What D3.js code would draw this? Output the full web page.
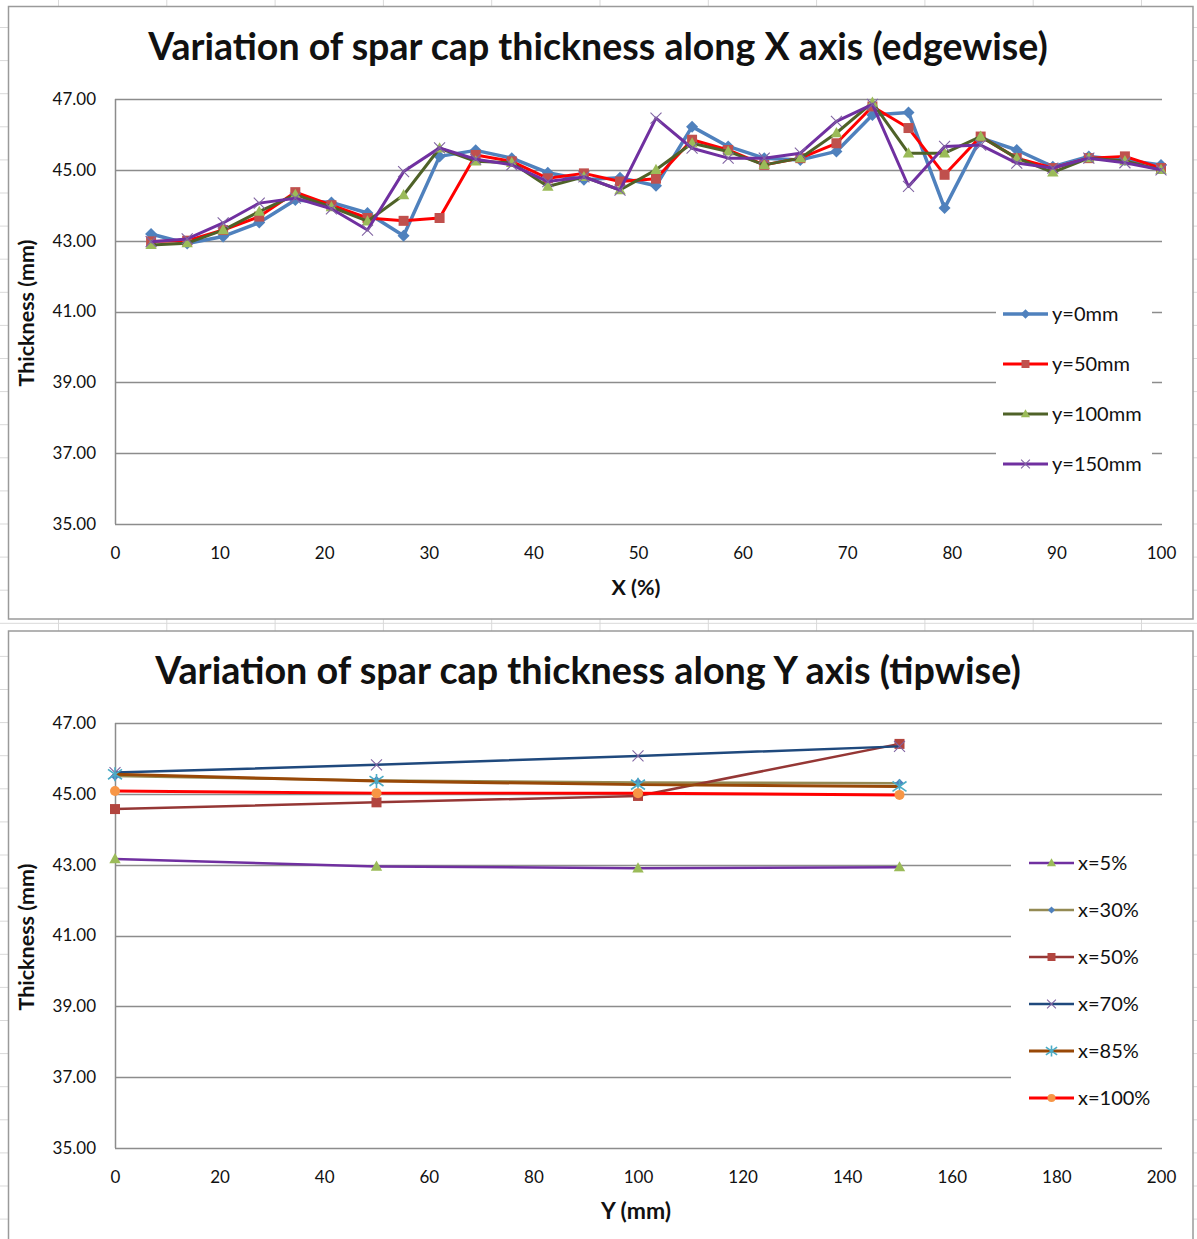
<!DOCTYPE html>
<html>
<head>
<meta charset="utf-8">
<script src="https://cdn.jsdelivr.net/npm/d3@7"></script>
<style>
  body { margin: 0; background: #fff; }
  svg text { font-family: Lato, "Open Sans", sans-serif; fill: #111; }
</style>
</head>
<body>
<svg id="chart" width="1197" height="1239"></svg>
<script>
// ---- values ----
var edgeTitle = "Variation of spar cap thickness along X axis (edgewise)";
var tipTitle = "Variation of spar cap thickness along Y axis (tipwise)";

var xPercent = [3.45, 6.9, 10.34, 13.79, 17.24, 20.69, 24.14, 27.59, 31.03, 34.48,
                37.93, 41.38, 44.83, 48.28, 51.72, 55.17, 58.62, 62.07, 65.52, 68.97,
                72.41, 75.86, 79.31, 82.76, 86.21, 89.66, 93.1, 96.55, 100];

var edgeNames = ["y=0mm", "y=50mm", "y=100mm", "y=150mm"];
var thickY0   = [43.19, 42.92, 43.12, 43.51, 44.15, 44.08, 43.78, 43.14, 45.38, 45.55,
                 45.33, 44.92, 44.72, 44.78, 44.55, 46.22, 45.66, 45.33, 45.28, 45.52,
                 46.55, 46.62, 43.92, 45.9, 45.56, 45.09, 45.38, 45.28, 45.14];
var thickY50  = [42.98, 43.0, 43.3, 43.68, 44.37, 44.0, 43.64, 43.56, 43.64, 45.42,
                 45.24, 44.76, 44.9, 44.67, 44.75, 45.85, 45.56, 45.14, 45.33, 45.75,
                 46.79, 46.18, 44.86, 45.94, 45.33, 45.05, 45.33, 45.38, 45.05];
var thickY100 = [42.88, 42.93, 43.3, 43.82, 44.3, 43.95, 43.55, 44.29, 45.61, 45.24,
                 45.2, 44.53, 44.8, 44.43, 45.0, 45.75, 45.52, 45.14, 45.33, 46.04,
                 46.9, 45.47, 45.47, 45.94, 45.33, 44.93, 45.33, 45.25, 45.0];
var thickY150 = [42.97, 43.05, 43.5, 44.06, 44.2, 43.9, 43.3, 44.95, 45.62, 45.3,
                 45.14, 44.67, 44.8, 44.43, 46.46, 45.61, 45.33, 45.33, 45.47, 46.37,
                 46.85, 44.53, 45.66, 45.7, 45.19, 45.05, 45.33, 45.2, 45.0];

var yMillimetres = [0, 50, 100, 150];
var tipNames = ["x=5%", "x=30%", "x=50%", "x=70%", "x=85%", "x=100%"];
var thickX5   = [43.16, 42.95, 42.9, 42.93];
var thickX30  = [45.5, 45.38, 45.32, 45.3];
var thickX50  = [44.57, 44.76, 44.94, 46.41];
var thickX70  = [45.6, 45.82, 46.07, 46.34];
var thickX85  = [45.55, 45.36, 45.26, 45.21];
var thickX100 = [45.08, 45.02, 45.02, 44.97];

var thicknessTicks = [35, 37, 39, 41, 43, 45, 47];
var edgeXTicks = [0, 10, 20, 30, 40, 50, 60, 70, 80, 90, 100];
var tipXTicks = [0, 20, 40, 60, 80, 100, 120, 140, 160, 180, 200];

// ---- styles ----
var edgeStyles = [
    {line: "#4f81bd", width: 3.5, marker: "diamond", color: "#4f81bd", r: 6},
    {line: "#ff0000", width: 3, marker: "square", color: "#c0504d", r: 5},
    {line: "#4f6228", width: 3, marker: "triangle", color: "#9bbb59", r: 6},
    {line: "#7030a0", width: 3, marker: "x", color: "#8064a2", r: 5.5}
];
var tipStyles = [
    {line: "#7030a0", width: 2.5, marker: "triangle", color: "#9bbb59", r: 6},
    {line: "#948a54", width: 2.5, marker: "diamond", color: "#4f81bd", r: 4.5},
    {line: "#953735", width: 2.5, marker: "square", color: "#b2453f", r: 5},
    {line: "#1f497d", width: 2.5, marker: "x", color: "#8064a2", r: 5.5},
    {line: "#984807", width: 3, marker: "star", color: "#4bacc6", r: 7},
    {line: "#ff0000", width: 3, marker: "circle", color: "#f79646", r: 5}
];

var gridColor = "#8c8c8c";
var svg = d3.select("#chart");

function markerPath(kind, r) {
    if (kind == "diamond") return "M0," + (-r) + "L" + r + ",0L0," + r + "L" + (-r) + ",0Z";
    if (kind == "square") return "M" + (-r) + "," + (-r) + "h" + (2 * r) + "v" + (2 * r) + "h" + (-2 * r) + "Z";
    if (kind == "triangle") return "M0," + (-r) + "L" + (r * 0.95) + "," + (r * 0.7) + "L" + (-r * 0.95) + "," + (r * 0.7) + "Z";
    if (kind == "x") return "M" + (-r) + "," + (-r) + "L" + r + "," + r + "M" + r + "," + (-r) + "L" + (-r) + "," + r;
    if (kind == "star") return "M" + (-r) + "," + (-r * 0.7) + "L" + r + "," + (r * 0.7) + "M" + r + "," + (-r * 0.7) + "L" + (-r) + "," + (r * 0.7) + "M0," + (-r) + "L0," + r;
    return d3.symbol(d3.symbolCircle, Math.PI * r * r)();
}

function drawMarker(sel, st) {
    sel.attr("d", markerPath(st.marker, st.r));
    if (st.marker == "x" || st.marker == "star") {
        sel.attr("fill", "none").attr("stroke", st.color).attr("stroke-width", st.marker == "star" ? 1.6 : 1.1);
    } else {
        sel.attr("fill", st.color).attr("stroke", "none");
    }
}

function fitWidth(text, target) {
    var w = text.node().getComputedTextLength();
    var fs = parseFloat(text.attr("font-size"));
    text.attr("font-size", fs * target / w);
}

// spreadsheet cell lines behind the two charts
var bg = svg.append("g").attr("stroke", "#d9d9d9").attr("stroke-width", 1);
bg.selectAll("line.col").data(d3.range(11)).enter().append("line")
    .attr("x1", function (k) { return 58.5 + 108.3 * k; })
    .attr("x2", function (k) { return 58.5 + 108.3 * k; })
    .attr("y1", 0).attr("y2", 1239);
bg.selectAll("line.row").data(d3.range(38)).enter().append("line")
    .attr("y1", function (k) { return 27.5 + 33.1 * k; })
    .attr("y2", function (k) { return 27.5 + 33.1 * k; })
    .attr("x1", 0).attr("x2", 1197);

function drawChart(cfg) {
    var g = svg.append("g");
    var top = cfg.top;

    g.append("rect")
        .attr("x", 8.5).attr("y", cfg.frameTop)
        .attr("width", 1184.5).attr("height", cfg.frameHeight)
        .attr("fill", "#fff").attr("stroke", "#9a9a9a").attr("stroke-width", 1.5);

    var x = d3.scaleLinear().domain(cfg.xDomain).range([115, 1161]);
    var y = d3.scaleLinear().domain([35, 47]).range([top + 425, top]);

    // horizontal gridlines
    g.append("g").selectAll("line").data(thicknessTicks).enter().append("line")
        .attr("x1", 115).attr("x2", 1162)
        .attr("y1", function (d) { return Math.round(y(d)) + 0.5; })
        .attr("y2", function (d) { return Math.round(y(d)) + 0.5; })
        .attr("stroke", gridColor).attr("stroke-width", 1.5);
    g.append("line")
        .attr("x1", 115.5).attr("x2", 115.5).attr("y1", top).attr("y2", top + 425)
        .attr("stroke", gridColor).attr("stroke-width", 1.5);

    var yAxis = g.append("g").attr("transform", "translate(115,0)")
        .call(d3.axisLeft(y).tickValues(thicknessTicks).tickFormat(d3.format(".2f")).tickSize(0).tickPadding(19));
    yAxis.select(".domain").remove();
    yAxis.selectAll("text").attr("font-size", 17).attr("fill", "#111").style("font-family", "Lato");

    var xAxis = g.append("g").attr("transform", "translate(0," + (top + 425) + ")")
        .call(d3.axisBottom(x).tickValues(cfg.xTicks).tickSize(0));
    xAxis.select(".domain").remove();
    xAxis.selectAll("text").attr("y", 29).attr("dy", "0.35em")
        .attr("font-size", 17).attr("fill", "#111").style("font-family", "Lato");

    // titles
    var title = g.append("text").text(cfg.title)
        .attr("x", cfg.titleX).attr("y", top - 52).attr("dy", "0.35em")
        .attr("text-anchor", "middle").attr("font-size", 32).attr("font-weight", "bold");
    fitWidth(title, cfg.titleWidth);

    var xt = g.append("text").text(cfg.xLabel)
        .attr("x", 636).attr("y", top + 488).attr("dy", "0.35em")
        .attr("text-anchor", "middle").attr("font-size", 18).attr("font-weight", "bold");
    fitWidth(xt, cfg.xLabelWidth);

    var yt = g.append("text").text("Thickness (mm)")
        .attr("transform", "translate(26," + (top + 214) + ") rotate(-90)")
        .attr("dy", "0.35em")
        .attr("text-anchor", "middle").attr("font-size", 16).attr("font-weight", "bold");
    fitWidth(yt, 147);

    // legend box hides gridlines behind it
    var lg = g.append("g");
    lg.append("rect")
        .attr("x", cfg.legend.x0).attr("y", cfg.legend.y0)
        .attr("width", cfg.legend.w).attr("height", cfg.legend.h)
        .attr("fill", "#fff");

    // series
    var line = d3.line()
        .x(function (d) { return x(d[0]); })
        .y(function (d) { return y(d[1]); });

    cfg.series.forEach(function (values, i) {
        var st = cfg.styles[i];
        var pts = cfg.xs.map(function (v, j) { return [v, values[j]]; });
        g.append("path").datum(pts)
            .attr("d", line)
            .attr("fill", "none")
            .attr("stroke", st.line)
            .attr("stroke-width", st.width)
            .attr("stroke-linejoin", "round");
        g.append("g").selectAll("path").data(pts).enter().append("path")
            .attr("transform", function (d) { return "translate(" + x(d[0]) + "," + y(d[1]) + ")"; })
            .call(drawMarker, st);
    });

    // legend entries
    cfg.names.forEach(function (name, i) {
        var st = cfg.styles[i];
        var ly = cfg.legend.firstY + i * cfg.legend.step;
        lg.append("line")
            .attr("x1", cfg.legend.lineX).attr("x2", cfg.legend.lineX + 45)
            .attr("y1", ly).attr("y2", ly)
            .attr("stroke", st.line).attr("stroke-width", st.width);
        lg.append("path")
            .attr("transform", "translate(" + (cfg.legend.lineX + 22.5) + "," + ly + ")")
            .call(drawMarker, {marker: st.marker, color: st.color, r: st.r * 0.8});
        lg.append("text").text(name)
            .attr("x", cfg.legend.lineX + 49).attr("y", ly).attr("dy", "0.35em")
            .attr("font-size", 20);
    });
}

drawChart({
    title: edgeTitle, titleX: 598, titleWidth: 900,
    xLabel: "X (%)", xLabelWidth: 49,
    frameTop: 6.5, frameHeight: 612.5,
    top: 99,
    xDomain: [0, 100], xTicks: edgeXTicks,
    xs: xPercent,
    series: [thickY0, thickY50, thickY100, thickY150],
    names: edgeNames, styles: edgeStyles,
    legend: {x0: 996, y0: 296, w: 156, h: 186, lineX: 1003, firstY: 314, step: 50}
});

drawChart({
    title: tipTitle, titleX: 588, titleWidth: 866,
    xLabel: "Y (mm)", xLabelWidth: 70,
    frameTop: 631, frameHeight: 640,
    top: 723,
    xDomain: [0, 200], xTicks: tipXTicks,
    xs: yMillimetres,
    series: [thickX5, thickX30, thickX50, thickX70, thickX85, thickX100],
    names: tipNames, styles: tipStyles,
    legend: {x0: 1011, y0: 842, w: 160, h: 276, lineX: 1029, firstY: 863, step: 47}
});
</script>
</body>
</html>
